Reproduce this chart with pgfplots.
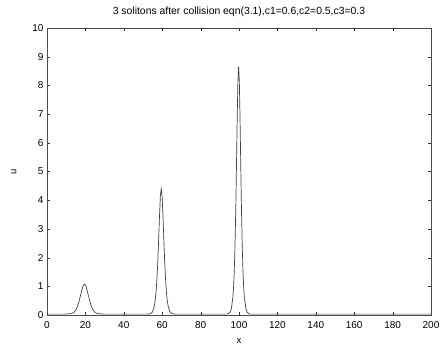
\documentclass[border=0pt]{standalone}
\usepackage{fontspec}
\setmainfont{Liberation Sans}
\usepackage{pgfplots}
\pgfplotsset{compat=1.18}
\begin{document}
\begin{tikzpicture}
\useasboundingbox (-47pt,-36pt) rectangle (396pt,315pt);
\begin{axis}[
  width=384pt, height=287pt, scale only axis,
  at={(0pt,0pt)}, anchor=south west,
  xmin=0, xmax=200, ymin=0, ymax=10,
  xtick={0,20,...,200}, ytick={0,1,...,10},
  tick align=inside, tick pos=both,
  major tick length=3pt,
  axis line style={black!70, line width=0.6pt},
  tick style={black!80},
  /pgf/number format/assume math mode=true,
  tick label style={font=\fontsize{10}{11}\selectfont},
  xticklabel style={yshift=-3pt},
  label style={font=\fontsize{9.5}{10}\selectfont},
  title style={font=\fontsize{10.4}{12}\selectfont, at={(axis description cs:0.5,1)}, yshift=10pt, anchor=center},
  title={3 solitons after collision eqn(3.1),c1=0.6,c2=0.5,c3=0.3},
  xlabel={x}, ylabel={u},
  xlabel style={at={(axis description cs:0.5,0)}, yshift=-26pt, anchor=center},
  ylabel style={at={(axis description cs:0,0.5)}, yshift=33pt, anchor=center},
]
\addplot[black!75, line width=0.7pt] coordinates {
(0,0.03) (9,0.03) (12.25,0.045) (13.7,0.076) (14.425,0.122) (15.15,0.195) (15.875,0.303) (16.6,0.454) (17.325,0.644) (18.05,0.849) (18.775,1.016) (19.5,1.08)
(20.225,1.016) (20.95,0.849) (21.675,0.644) (22.4,0.454) (23.125,0.303) (23.85,0.195) (24.575,0.122) (25.3,0.076) (26.75,0.045) (30,0.03)
(52.3,0.03) (54.1,0.05) (55.0,0.117) (55.9,0.311) (56.35,0.5) (56.8,0.795) (57.25,1.244) (57.7,1.848) (58.15,2.625) (58.6,3.461) (59.05,4.141) (59.5,4.4)
(59.95,4.141) (60.4,3.461) (60.85,2.625) (61.3,1.848) (61.75,1.244) (62.2,0.795) (62.65,0.5) (63.1,0.311) (64.0,0.117) (64.9,0.05) (66.7,0.03)
(93.8,0.03) (95.3,0.085) (96.05,0.230) (96.8,0.612) (97.175,0.984) (97.55,1.563) (97.925,2.446) (98.3,3.633) (98.675,5.161) (99.05,6.802) (99.425,8.141) (99.8,8.65)
(100.175,8.141) (100.55,6.802) (100.925,5.161) (101.3,3.633) (101.675,2.446) (102.05,1.563) (102.425,0.984) (102.8,0.612) (103.55,0.230) (104.3,0.085) (105.8,0.03)
(200,0.03)
};
\end{axis}
\end{tikzpicture}
\end{document}
